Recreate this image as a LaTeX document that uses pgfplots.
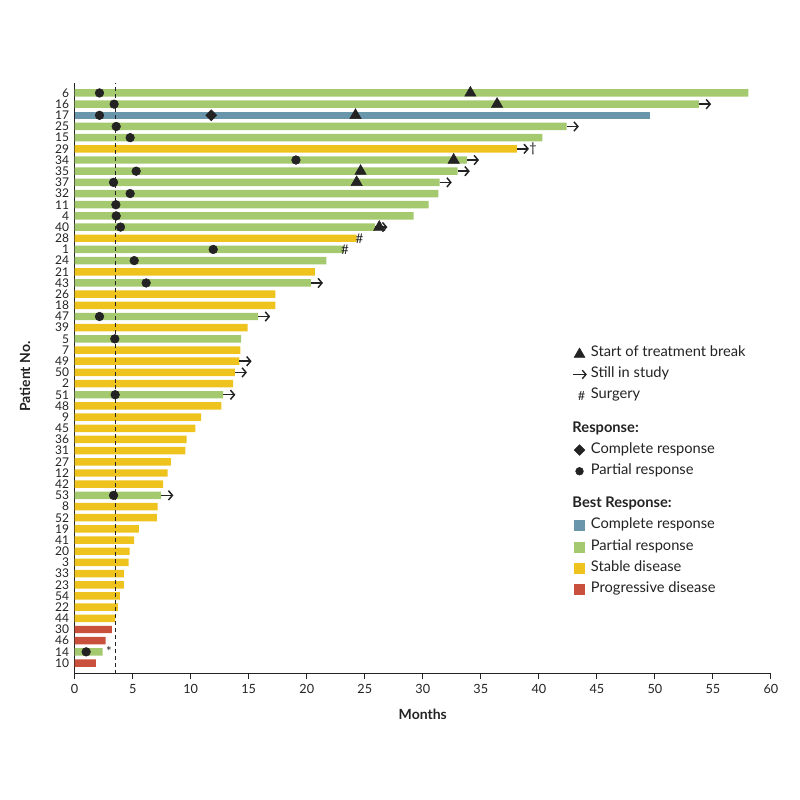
\documentclass[border=0pt]{standalone}
\usepackage{pgfplots}
\pgfplotsset{compat=1.18}
\usepackage{fontspec}
\setmainfont{Lato}
\usetikzlibrary{arrows.meta}
\definecolor{cgreen}{RGB}{165,201,110}
\definecolor{cblue}{RGB}{106,150,172}
\definecolor{cyellow}{RGB}{238,195,30}
\definecolor{cred}{RGB}{200,80,60}
\definecolor{cdark}{RGB}{35,35,35}
\begin{document}
\begin{tikzpicture}
\begin{axis}[
  scale only axis, width=522.2pt, height=443.3pt,
  xmin=0, xmax=60, ymin=0.043, ymax=52.92,
  axis lines=left, axis line style={-, draw=cdark, line width=0.75pt},
  xtick={0,5,...,60}, ytick={1,...,52},
  yticklabels={10,14,46,30,44,22,54,23,33,3,20,41,19,52,8,53,42,12,27,31,36,45,9,48,51,2,50,49,7,5,39,47,18,26,43,21,24,1,28,40,4,11,32,37,35,34,29,15,25,17,16,6},
  tick align=outside, major tick length=4pt,
  ytick style={draw=none}, xtick style={draw=cdark, line width=0.75pt},
  /pgf/number format/assume math mode=true,
  xticklabel style={font=\fontsize{9.5}{10}\selectfont, inner sep=0pt, anchor=north, yshift=-3.5pt, text=cdark},
  yticklabel style={font=\fontsize{9}{9}\selectfont, inner sep=0pt, anchor=east, text=cdark},
  xlabel={Months}, ylabel={Patient No.},
  xlabel style={font=\bfseries\fontsize{10.5}{12}\selectfont, at={(axis description cs:0.5,-0.0681)}, anchor=center, text=cdark},
  ylabel style={font=\bfseries\fontsize{10.5}{12}\selectfont, at={(axis description cs:-0.0714,0.5025)}, anchor=center, text=cdark},
  clip=false,
  legend cell align=left,
  legend style={at={(rel axis cs:0.7142,0.5528)}, anchor=north west, draw=none, fill=none,
    font=\fontsize{11}{12}\selectfont, text=cdark, row sep=6.9pt, inner sep=0pt,
    nodes={inner sep=0pt, text height=7pt, text depth=2pt},
    /tikz/every odd column/.append style={column sep=2.5pt}},
]
% bars
\addplot[forget plot, xbar, bar width=5.6pt, bar shift=0pt, fill=cgreen, draw=none] coordinates {
(58.05,52) (53.8,51) (42.4,49) (40.3,48) (33.8,46) (33.0,45) (31.45,44) (31.35,43) (30.5,42) (29.2,41) (25.9,40) (23.2,38) (21.7,37) (20.35,35) (15.8,32) (14.35,30) (12.8,25) (7.46,16) (2.4,2)};
\addplot[forget plot, xbar, bar width=5.6pt, bar shift=0pt, fill=cblue, draw=none] coordinates {(49.55,50)};
\addplot[forget plot, xbar, bar width=5.6pt, bar shift=0pt, fill=cyellow, draw=none] coordinates {
(38.1,47) (24.3,39) (20.7,36) (17.3,34) (17.3,33) (14.9,31) (14.27,29) (14.2,28) (13.8,27) (13.66,26) (12.65,24) (10.9,23) (10.4,22) (9.64,21) (9.53,20) (8.3,19) (8.0,18) (7.63,17) (7.14,15) (7.08,14) (5.53,13) (5.13,12) (4.73,11) (4.64,10) (4.24,9) (4.24,8) (3.9,7) (3.72,6) (3.49,5)};
\addplot[forget plot, xbar, bar width=5.6pt, bar shift=0pt, fill=cred, draw=none] coordinates {(3.2,4) (2.66,3) (1.83,1)};
% dashed line
\addplot[forget plot, cdark, line width=0.6pt, dash pattern=on 3pt off 2.2pt] coordinates {(3.55,0.043) (3.55,52.92)};
% still in study arrows
\addplot[forget plot, cdark, line width=1.1pt, -{Straight Barb[length=3pt,width=7pt]}, quiver={u=1.05,v=0}] coordinates {
(53.8,51) (42.4,49) (38.1,47) (33.8,46) (33.0,45) (31.45,44) (25.9,40) (20.35,35) (15.8,32) (14.2,28) (13.8,27) (12.8,25) (7.46,16)};
% partial response
\addplot[forget plot, only marks, mark=*, mark size=3.25pt, color=cdark] coordinates {
(2.14,52) (3.4,51) (2.14,50) (3.58,49) (4.78,48) (19.07,46) (5.3,45) (3.35,44) (4.78,43) (3.55,42) (3.58,41) (3.95,40) (11.94,38) (5.13,37) (6.16,35) (2.14,32) (3.46,30) (3.49,25) (3.35,16) (0.99,2)};
% complete response
\addplot[forget plot, only marks, mark=square*, mark size=2.9pt, mark options={rotate=45}, color=cdark] coordinates {(11.77,50)};
% treatment break
\addplot[forget plot, only marks, mark=triangle*, mark size=4.9pt, color=cdark] coordinates {
(34.1,52) (36.4,51) (24.2,50) (32.66,46) (24.64,45) (24.3,44) (26.25,40)};
% surgery etc.
\addplot[forget plot, only marks, mark=none, point meta=explicit symbolic, nodes near coords,
  nodes near coords style={anchor=center, inner sep=0pt, font=\fontsize{10}{10}\selectfont, text=cdark}] coordinates {
(24.55,39) [\#] (23.3,38) [\#] (39.5,47) [†] (2.96,2) [*]};
% legend
\addlegendimage{legend image code/.code={\fill[cdark] (1.5pt,-3pt) -- (9.5pt,-3pt) -- (5.5pt,3.9pt) -- cycle;}}
\addlegendentry{Start of treatment break}
\addlegendimage{legend image code/.code={\draw[cdark, line width=1pt, -{Straight Barb[length=2.8pt,width=6.4pt]}] (0.5pt,0pt) -- (11pt,0pt);}}
\addlegendentry{Still in study}
\addlegendimage{legend image code/.code={\node[inner sep=0pt, text height=, text depth=, font=\fontsize{9.5}{10}\selectfont] at (4pt,0pt) {\#};}}
\addlegendentry{Surgery}
\addlegendimage{legend image code/.code={\path[draw=none, fill=none] (0pt,-3pt) -- (0pt,13.5pt); \node[overlay, anchor=west, inner sep=0pt, font=\bfseries\fontsize{11}{12}\selectfont] at (0pt,0pt) {Response:};}}
\addlegendentry{}
\addlegendimage{legend image code/.code={\fill[cdark] (5.5pt,4pt) -- (9.5pt,0pt) -- (5.5pt,-4pt) -- (1.5pt,0pt) -- cycle;}}
\addlegendentry{Complete response}
\addlegendimage{legend image code/.code={\fill[cdark] (5.5pt,0pt) circle (2.9pt);}}
\addlegendentry{Partial response}
\addlegendimage{legend image code/.code={\path[draw=none, fill=none] (0pt,-3pt) -- (0pt,13.5pt); \node[overlay, anchor=west, inner sep=0pt, font=\bfseries\fontsize{11}{12}\selectfont] at (0pt,0pt) {Best Response:};}}
\addlegendentry{}
\addlegendimage{legend image code/.code={\fill[cblue] (1.5pt,-3.75pt) rectangle (9pt,3.75pt);}}
\addlegendentry{Complete response}
\addlegendimage{legend image code/.code={\fill[cgreen] (1.5pt,-3.75pt) rectangle (9pt,3.75pt);}}
\addlegendentry{Partial response}
\addlegendimage{legend image code/.code={\fill[cyellow] (1.5pt,-3.75pt) rectangle (9pt,3.75pt);}}
\addlegendentry{Stable disease}
\addlegendimage{legend image code/.code={\fill[cred] (1.5pt,-3.75pt) rectangle (9pt,3.75pt);}}
\addlegendentry{Progressive disease}
\end{axis}
\pgfresetboundingbox
\useasboundingbox (-56.0pt,-94.7pt) rectangle (544.0pt,505.3pt);
\end{tikzpicture}
\end{document}
